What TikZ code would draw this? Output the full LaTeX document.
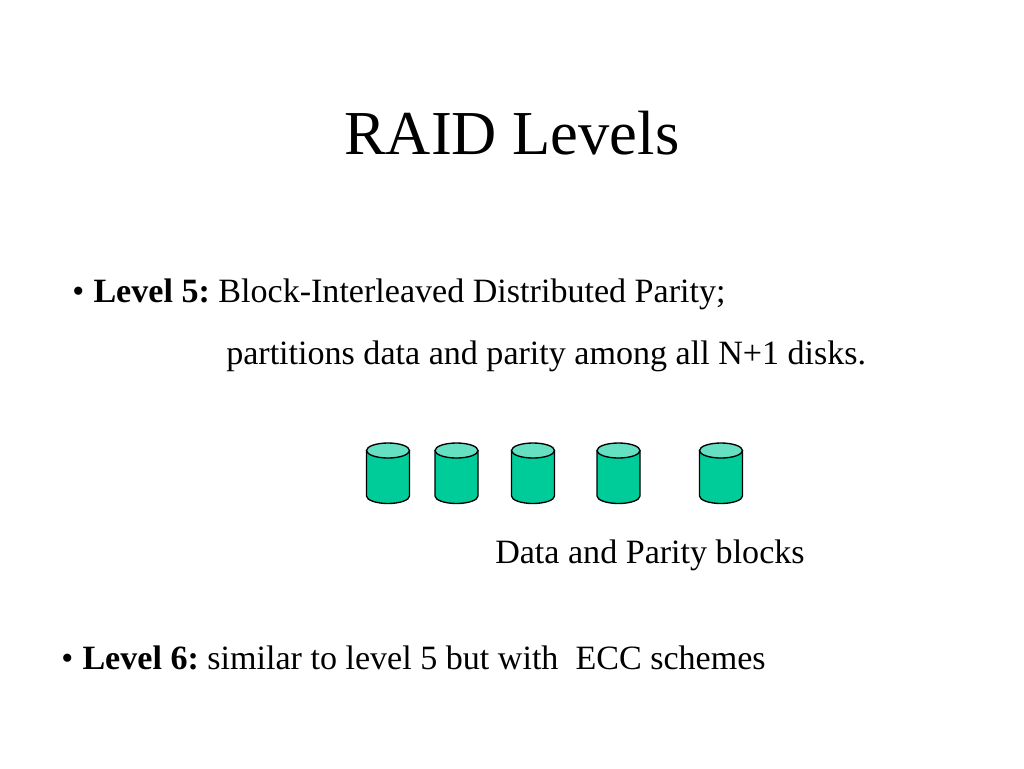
\documentclass[tikz,border=0pt]{standalone}
\usepackage{fontspec}
\setmainfont{Liberation Serif}
\definecolor{diskbody}{HTML}{00CC99}
\definecolor{disktop}{HTML}{66E0C2}
\tikzset{
  txt/.style={anchor=base west,inner sep=0pt,font=\fontsize{25.55pt}{28pt}\selectfont},
}
\newcommand{\disk}[1]{%
  \fill[diskbody] (#1-21.5,-450.5) -- (#1-21.5,-496) arc[start angle=180,end angle=360,x radius=21.5,y radius=7.5] -- (#1+21.5,-450.5) -- cycle;
  \draw[black,line width=1pt] (#1-21.5,-450.5) -- (#1-21.5,-496) arc[start angle=180,end angle=360,x radius=21.5,y radius=7.5] -- (#1+21.5,-450.5);
  \draw[black,line width=1pt,fill=disktop] (#1,-450.5) ellipse[x radius=21.5,y radius=7.5];
}
\begin{document}
\begin{tikzpicture}[x=0.75pt,y=0.75pt]
\useasboundingbox (0,0) rectangle (1024,-768);
\fill[white] (0,0) rectangle (1024,-768);
\node[txt,font=\fontsize{46.9pt}{50pt}\selectfont] (title) at (344,-154) {RAID Levels};
\node[txt] (l5) at (72,-302.5) {•\kern0.6pt{} \textbf{Level 5:}\kern-2.1pt{} Block-Interleaved Distributed Parity;};
\node[txt] (l5b) at (226,-364.5) {partitions data and parity among all N+1 disks.};
\node[txt] (cap) at (495,-563.5) {Data and Parity blocks};
\node[txt] (l6) at (61,-669.5) {•\kern0.6pt{} \textbf{Level 6:}\kern-2.1pt{} similar to level 5 but with\ \ ECC schemes};
\disk{388}
\disk{456.5}
\disk{533}
\disk{618.5}
\disk{721}
\end{tikzpicture}
\end{document}
